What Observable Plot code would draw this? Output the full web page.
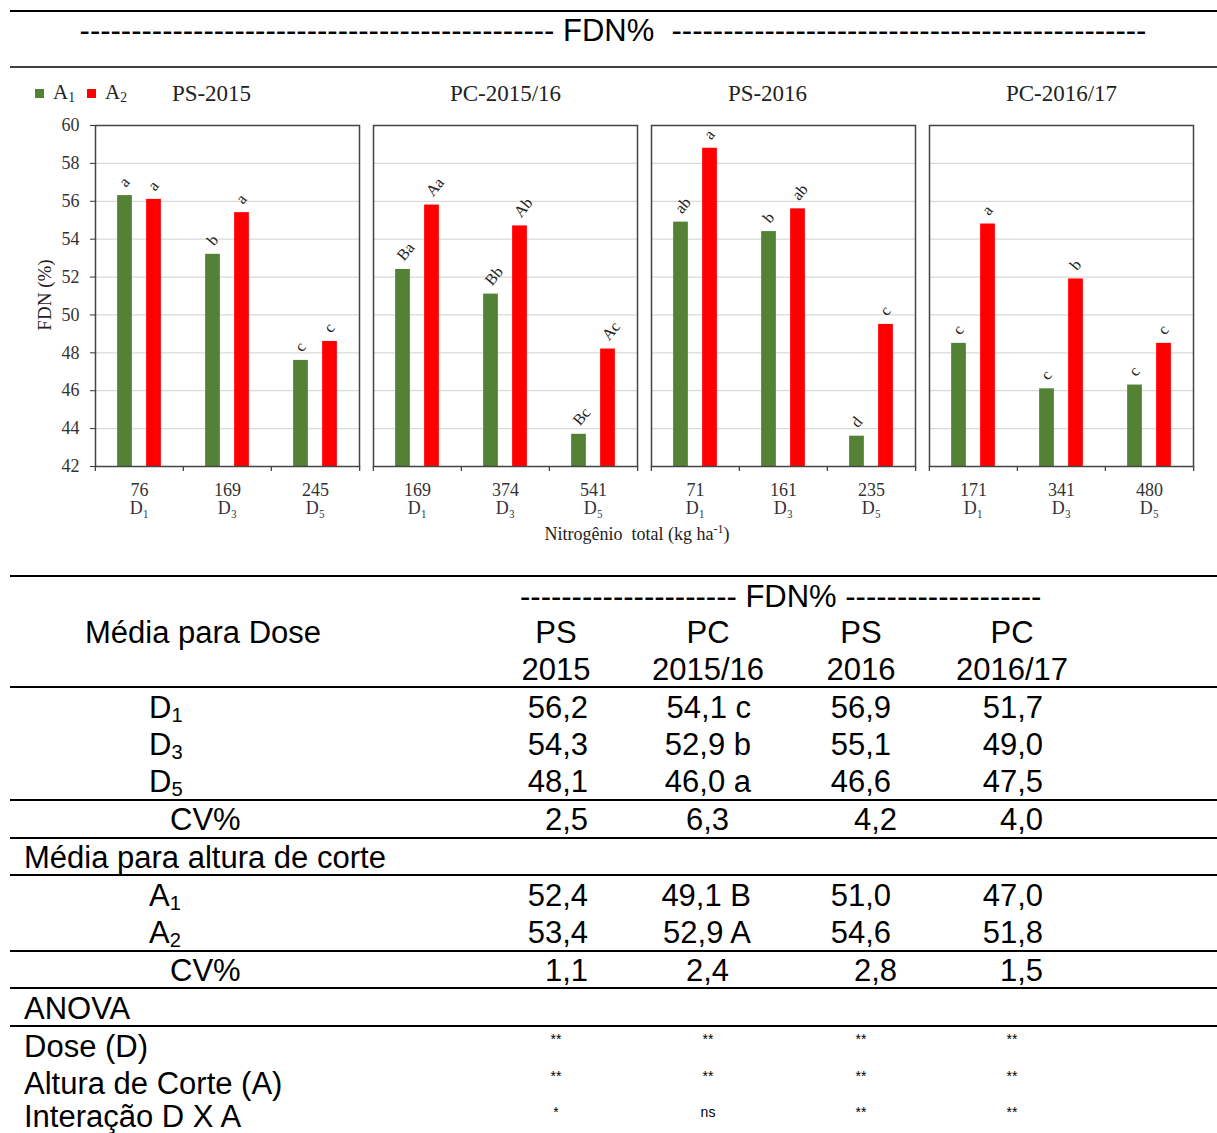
<!DOCTYPE html>
<html><head><meta charset="utf-8">
<script src="https://cdn.jsdelivr.net/npm/d3@7"></script>
<script src="https://cdn.jsdelivr.net/npm/@observablehq/plot@0.6"></script>
<style>
html,body{margin:0;padding:0;background:#fff;}
#wrap{position:relative;width:1217px;height:1133px;overflow:hidden;background:#fff;}
#chart{position:absolute;left:0;top:70px;}
#overlay{position:absolute;left:0;top:0;pointer-events:none;}
</style></head>
<body><div id="wrap"><div id="chart"></div><svg id="overlay" width="1217" height="1133"></svg></div>
<script>
// ---------- chart data ----------
const seasons = ["PS-2015", "PC-2015/16", "PS-2016", "PC-2016/17"];
const doses = ["D1", "D3", "D5"];
const nTotal = [[76, 169, 245], [169, 374, 541], [71, 161, 235], [171, 341, 480]];
const fdnA1 = [[56.3, 53.2, 47.6], [52.4, 51.1, 43.7], [54.9, 54.4, 43.6], [48.5, 46.1, 46.3]];
const fdnA2 = [[56.1, 55.4, 48.6], [55.8, 54.7, 48.2], [58.8, 55.6, 49.5], [54.8, 51.9, 48.5]];
const lettersA1 = [["a", "b", "c"], ["Ba", "Bb", "Bc"], ["ab", "b", "d"], ["c", "c", "c"]];
const lettersA2 = [["a", "a", "c"], ["Aa", "Ab", "Ac"], ["a", "ab", "c"], ["a", "b", "c"]];
const yTicks = [42, 44, 46, 48, 50, 52, 54, 56, 58, 60];
const cutHeights = ["A1", "A2"];

// ---------- table data ----------
const tableCols = [["PS", "2015"], ["PC", "2015/16"], ["PS", "2016"], ["PC", "2016/17"]];
const doseRows = ["D1", "D3", "D5"];
const doseMeans = [["56,2", "54,1 c", "56,9", "51,7"], ["54,3", "52,9 b", "55,1", "49,0"], ["48,1", "46,0 a", "46,6", "47,5"]];
const cvDose = ["2,5", "6,3", "4,2", "4,0"];
const heightRows = ["A1", "A2"];
const heightMeans = [["52,4", "49,1 B", "51,0", "47,0"], ["53,4", "52,9 A", "54,6", "51,8"]];
const cvHeight = ["1,1", "2,4", "2,8", "1,5"];
const anovaRows = ["Dose (D)", "Altura de Corte (A)", "Interação D X A"];
const anovaSig = [["**", "**", "**", "**"], ["**", "**", "**", "**"], ["*", "ns", "**", "**"]];

// ---------- styles ----------
const green = "#548235", red = "#ff0000";
const serif = "'Liberation Serif','Times New Roman',Times,serif";
const sans = "'Liberation Sans',Arial,Helvetica,sans-serif";
const subDigits = "₀₁₂₃₄₅₆₇₈₉";

const rows = [];
seasons.forEach((s, i) => doses.forEach((d, j) => {
  rows.push({season: s, dose: d, n: nTotal[i][j], h: "A1", fdn: fdnA1[i][j], letter: lettersA1[i][j]});
  rows.push({season: s, dose: d, n: nTotal[i][j], h: "A2", fdn: fdnA2[i][j], letter: lettersA2[i][j]});
}));
const rA1 = rows.filter(r => r.h === "A1");
const rA2 = rows.filter(r => r.h === "A2");

const W = 1217, H = 480, mL = 94, mR = 22, mT = 55, mB = 84;
const fxPad = 0.05;
const panelW = (W - mL - mR) / (seasons.length - fxPad) * (1 - fxPad);
const doseBand = panelW / doses.length;
const barW = 15, barOff = 14.5;
const inset = (doseBand - barW) / 2;
const yMin = yTicks[0], yMax = yTicks[yTicks.length - 1];

const labelOpts = {fx: "season", x: "dose", y: "fdn", text: "letter", rotate: -50, textAnchor: "start", lineAnchor: "middle", fontSize: 16, fill: "#222", dy: -11};

const plot = Plot.plot({
  width: W, height: H,
  marginLeft: mL, marginRight: mR, marginTop: mT, marginBottom: mB,
  style: {fontFamily: serif, fontSize: "18px", color: "#333", background: "transparent"},
  fx: {domain: seasons, paddingInner: fxPad, paddingOuter: 0, axis: null, label: null},
  x: {domain: doses, padding: 0, axis: null, label: null},
  y: {domain: [yMin, yMax], ticks: yTicks, tickSize: 5, tickPadding: 11, label: null},
  marks: [
    Plot.ruleY(yTicks.filter(v => v > yMin && v < yMax), {stroke: "#d9d9d9", strokeWidth: 1.3}),
    Plot.barY(rA1, {fx: "season", x: "dose", y1: yMin, y2: "fdn", fill: green, insetLeft: inset, insetRight: inset, dx: -barOff}),
    Plot.barY(rA2, {fx: "season", x: "dose", y1: yMin, y2: "fdn", fill: red, insetLeft: inset, insetRight: inset, dx: barOff}),
    Plot.text(rA1, {...labelOpts, dx: -barOff - 3}),
    Plot.text(rA2, {...labelOpts, dx: barOff - 3}),
    Plot.ruleX(doses, {x: d => d, y1: yMin, y2: yMin, insetTop: 5, dx: -doseBand / 2, stroke: "#444", strokeWidth: 1.3}),
    Plot.ruleX(doses.slice(-1), {x: d => d, y1: yMin, y2: yMin, insetTop: 5, dx: doseBand / 2, stroke: "#444", strokeWidth: 1.3}),
    Plot.frame({stroke: "#444", strokeWidth: 1.5}),
    Plot.text(rA1, {fx: "season", x: "dose", text: d => String(d.n), frameAnchor: "bottom", lineAnchor: "middle", dy: 24, fontSize: 18, fill: "#333"}),
    Plot.text(rA1, {fx: "season", x: "dose", text: d => d.dose.replace(/\d/, c => subDigits[+c]), frameAnchor: "bottom", lineAnchor: "middle", dy: 42, fontSize: 18, fill: "#333"}),
    Plot.text(seasons.filter(s => s.startsWith("PS")), {fx: d => d, text: d => d, frameAnchor: "top", lineAnchor: "middle", dy: -32, dx: -16, fontSize: 23, fill: "#222"}),
    Plot.text(seasons.filter(s => s.startsWith("PC")), {fx: d => d, text: d => d, frameAnchor: "top", lineAnchor: "middle", dy: -32, fontSize: 23, fill: "#222"})
  ]
});
document.getElementById("chart").appendChild(plot);

// ---------- overlay: header, legend, axis titles, table ----------
const svg = d3.select("#overlay");
function hline(y, w) {
  svg.append("line").attr("x1", 10).attr("x2", 1217).attr("y1", y).attr("y2", y).attr("stroke", "#000").attr("stroke-width", w);
}
function txt(x, y, s, {anchor = "start", size = 31, family = sans, fill = "#000"} = {}) {
  const t = svg.append("text").attr("x", x).attr("y", y).attr("text-anchor", anchor)
    .attr("font-size", size).attr("font-family", family).attr("fill", fill).style("white-space", "pre");
  const m = s.match(/^([A-Z])(\d)$/);
  if (m) {
    t.text(m[1]);
    t.append("tspan").attr("font-size", size * 0.65).attr("dy", size * 0.14).text(m[2]);
  } else t.text(s);
  return t;
}

// top header
hline(11, 2);
txt(613, 41, "-".repeat(46) + " FDN%  " + "-".repeat(46), {anchor: "middle"});
hline(67, 1.5);

// legend
cutHeights.forEach((h, i) => {
  const x0 = 35 + i * 52;
  svg.append("rect").attr("x", x0).attr("y", 89).attr("width", 9).attr("height", 9).attr("fill", i === 0 ? green : red);
  txt(x0 + 18, 99, h, {size: 21, family: serif, fill: "#222"});
});

// y axis title
svg.append("text").attr("transform", "translate(51,295) rotate(-90)").attr("text-anchor", "middle")
  .attr("font-size", 19).attr("font-family", serif).attr("fill", "#222").text("FDN (%)");

// x axis title
const xt = svg.append("text").attr("x", 637).attr("y", 540).attr("text-anchor", "middle")
  .attr("font-size", 18).attr("font-family", serif).attr("fill", "#222").style("white-space", "pre");
xt.append("tspan").text("Nitrogênio  total (kg ha");
xt.append("tspan").attr("font-size", 12).attr("dy", -7).text("-1");
xt.append("tspan").attr("dy", 7).text(")");

// table
const colCenter = [556, 708, 861, 1012];
const valueEnd = [588, 751, 891, 1043];
const cvEnd = [588, 729, 897, 1043];
[576, 687, 800, 838, 875, 951, 988, 1026].forEach(y => hline(y, 2));

txt(520, 607, "-".repeat(21) + " FDN% " + "-".repeat(19));
txt(85, 643, "Média para Dose");
tableCols.forEach((c, i) => {
  txt(colCenter[i], 643, c[0], {anchor: "middle"});
  txt(colCenter[i], 680, c[1], {anchor: "middle"});
});
const doseBase = [718, 755, 792];
doseRows.forEach((d, r) => {
  txt(149, doseBase[r], d);
  doseMeans[r].forEach((v, i) => txt(valueEnd[i], doseBase[r], v, {anchor: "end"}));
});
txt(170, 830, "CV%");
cvDose.forEach((v, i) => txt(cvEnd[i], 830, v, {anchor: "end"}));
txt(24, 868, "Média para altura de corte");
const hBase = [906, 943];
heightRows.forEach((h, r) => {
  txt(149, hBase[r], h);
  heightMeans[r].forEach((v, i) => txt(valueEnd[i], hBase[r], v, {anchor: "end"}));
});
txt(170, 981, "CV%");
cvHeight.forEach((v, i) => txt(cvEnd[i], 981, v, {anchor: "end"}));
txt(24, 1019, "ANOVA");
const aBase = [1057, 1094, 1127];
const sBase = [1044, 1081, 1117];
anovaRows.forEach((a, r) => {
  txt(24, aBase[r], a);
  anovaSig[r].forEach((s, i) => txt(colCenter[i], sBase[r], s, {anchor: "middle", size: 14}));
});
</script>
</body></html>
